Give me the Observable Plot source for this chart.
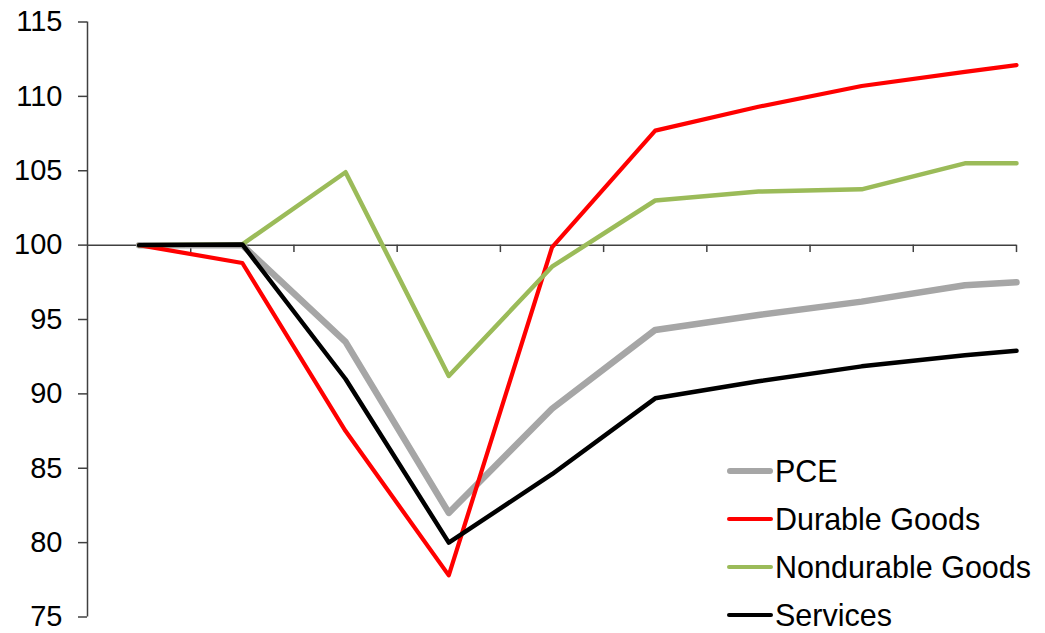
<!DOCTYPE html>
<html><head><meta charset="utf-8">
<script src="https://cdn.jsdelivr.net/npm/d3@7"></script>
<script src="https://cdn.jsdelivr.net/npm/@observablehq/plot@0.6"></script>
<style>
body{margin:0;background:#fff;}
#wrap{position:relative;width:1045px;height:633px;}
#legend{position:absolute;left:727px;top:447px;font-family:"Liberation Sans",Arial,sans-serif;font-size:30.5px;line-height:1;color:#000;}
.row{display:flex;align-items:center;height:48px;white-space:nowrap;}
.sw{width:46px;margin-right:2px;border-radius:3px;}
</style></head><body><div id="wrap"></div>
<script>
const periods = [0.5, 1.5, 2.5, 3.5, 4.5, 5.5, 6.5, 7.5, 8.5, 9];
const pce        = [100, 100,   93.5, 82.0, 89.0,  94.3,  95.3,  96.2,  97.3,  97.5];
const durable    = [100, 98.8,  87.5, 77.8, 99.85, 107.7, 109.3, 110.7, 111.65, 112.1];
const nondurable = [100, 100.05,104.9,91.2, 98.55, 103.0, 103.6, 103.75, 105.5, 105.5];
const services   = [100, 100.05,91.0, 80.0, 84.6,  89.7,  90.85, 91.85, 92.6,  92.9];
const yTicks = [75, 80, 85, 90, 95, 100, 105, 110, 115];
const xTicks = [1, 2, 3, 4, 5, 6, 7, 8, 9];
const seriesNames = ["PCE", "Durable Goods", "Nondurable Goods", "Services"];
const seriesColors = ["#a6a6a6", "#ff0000", "#9bbb59", "#000000"];
const seriesWidths = [6.5, 4.2, 4.5, 4.5];
const seriesValues = [pce, durable, nondurable, services];

const lineMarks = seriesValues.map((vals, i) =>
  Plot.line(vals.map((v, j) => ({x: periods[j], y: v})), {
    x: "x", y: "y", stroke: seriesColors[i], strokeWidth: seriesWidths[i],
    strokeLinejoin: "round", strokeLinecap: "round"
  })
);

const chart = Plot.plot({
  width: 1045, height: 633,
  marginLeft: 87, marginRight: 29, marginTop: 21.5, marginBottom: 16.5,
  x: {domain: [0, 9], axis: null},
  y: {domain: [75, 115], axis: null},
  style: {fontFamily: "'Liberation Sans', Arial, sans-serif", fontSize: "29px", color: "#000", background: "#fff"},
  marks: [
    Plot.axisY(yTicks, {tickSize: 9, tickPadding: 16, fontSize: 29, stroke: "#404040", strokeWidth: 1.5, fill: "#000", label: null, tickFormat: d => String(d)}),
    Plot.ruleX([0], {y1: 75, y2: 115, stroke: "#404040", strokeWidth: 1.5}),
    Plot.ruleY([100], {x1: 0, x2: 9, stroke: "#404040", strokeWidth: 1.5}),
    Plot.ruleX(xTicks, {x: d => d, y1: 100, y2: 99.5, stroke: "#404040", strokeWidth: 1.5}),
    ...lineMarks
  ]
});
const wrap = document.getElementById("wrap");
wrap.appendChild(chart);
const legend = document.createElement("div");
legend.id = "legend";
seriesNames.forEach((name, i) => {
  const row = document.createElement("div");
  row.className = "row";
  const sw = document.createElement("div");
  sw.className = "sw";
  sw.style.height = (i === 0 ? 6 : 4.5) + "px";
  sw.style.background = seriesColors[i];
  const t = document.createElement("span");
  t.textContent = name;
  row.appendChild(sw); row.appendChild(t);
  legend.appendChild(row);
});
wrap.appendChild(legend);
</script></body></html>
